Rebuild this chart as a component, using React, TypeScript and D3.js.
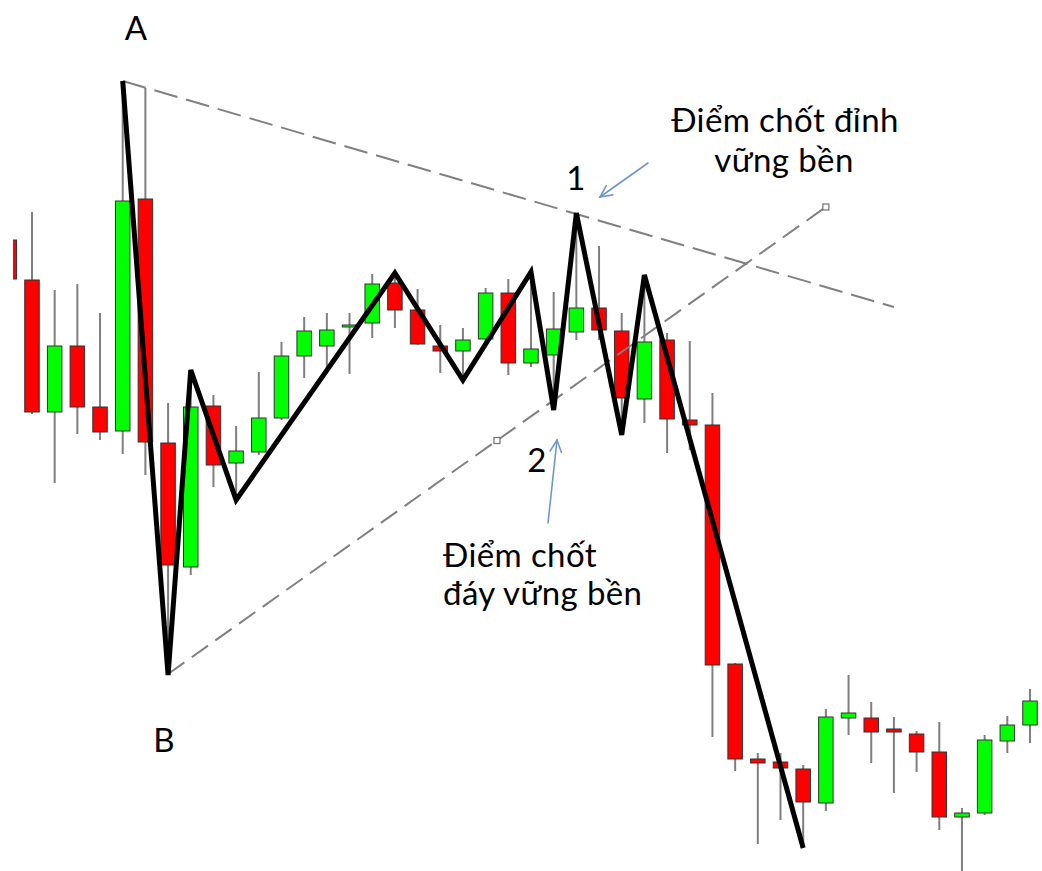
import React from 'react';
import * as d3 from 'd3';

// Candle data (arbitrary price units)
const candleOpen = [64.0, 60.0, 46.8, 53.4, 47.3, 44.9, 68.1, 43.7, 31.3, 47.4, 41.7, 42.8, 46.2, 52.4, 53.4, 55.3, 55.7, 59.7, 57.0, 53.4, 52.9, 54.1, 58.7, 51.7, 52.5, 54.8, 57.2, 54.9, 48.1, 54.0, 46.0, 45.5, 21.6, 12.1, 11.8, 11.1, 7.7, 16.2, 16.2, 15.1, 14.6, 12.8, 6.3, 6.7, 13.9, 15.5];
const candleClose = [60.1, 46.8, 53.4, 47.3, 44.8, 67.9, 43.8, 31.5, 47.3, 41.5, 42.9, 46.2, 52.4, 54.9, 55.0, 55.5, 59.6, 57.0, 53.6, 52.9, 54.0, 58.7, 51.7, 53.1, 55.1, 57.2, 55.0, 48.2, 53.8, 46.1, 45.5, 21.5, 12.1, 11.7, 11.2, 7.8, 16.3, 16.7, 14.8, 14.8, 12.8, 6.3, 6.7, 14.0, 15.5, 17.9];
const candleHigh = [64.2, 66.8, 59.0, 59.6, 56.7, 79.9, 79.2, 47.7, 51.0, 48.5, 45.4, 50.8, 53.8, 56.3, 56.7, 56.7, 60.6, 60.7, 59.1, 55.5, 55.2, 59.2, 60.1, 60.8, 58.8, 66.7, 63.4, 56.7, 60.5, 54.7, 53.9, 48.7, 21.7, 12.7, 12.7, 11.5, 17.1, 20.5, 17.8, 16.3, 14.9, 15.8, 7.2, 14.5, 16.4, 19.1];
const candleLow = [59.9, 46.6, 39.7, 44.6, 44.0, 42.6, 40.5, 20.5, 30.5, 39.3, 38.0, 42.5, 46.0, 50.2, 50.7, 50.6, 54.2, 55.2, 53.5, 50.7, 50.0, 53.8, 50.5, 51.3, 47.0, 54.0, 54.0, 44.5, 45.7, 42.7, 43.0, 14.3, 10.9, 3.6, 6.0, 3.2, 6.9, 14.5, 11.7, 8.7, 10.8, 5.0, 0.5, 6.5, 12.7, 13.7];

// Zigzag pivots: candle index and whether the high or low is used
const pivotIndex = [5, 7, 8, 10, 17, 20, 23, 24, 25, 27, 28, 35];
const pivotKind = ['h', 'l', 'h', 'l', 'h', 'l', 'h', 'l', 'h', 'l', 'h', 'l'];

// Trend lines (candle index, price)
const upperTrendIndex = [5, 39];
const upperTrendPrice = [79.9, 57.3];
const lowerTrendIndex = [7, 36];
const lowerTrendPrice = [20.6, 67.3];
const lowerMarkerIndex = [21.5, 36];

const W = 1042;
const H = 871;
const FONT = 'Lato, "Open Sans", sans-serif';

export default function App() {
  const n = candleOpen.length;
  const x = d3.scaleLinear().domain([0, n - 1]).range([9.3, 1030]);
  const y = d3.scaleLinear().domain([0, 88]).range([880, 0]);
  const bodyW = 14.5;

  const pivots = pivotIndex.map((idx, k) => [x(idx), y(pivotKind[k] === 'h' ? candleHigh[idx] : candleLow[idx])] as [number, number]);
  const zig = d3.line()(pivots) || '';

  const lowerLine = d3.scaleLinear().domain(lowerTrendIndex).range(lowerTrendPrice);

  const arrow = (x1: number, y1: number, x2: number, y2: number) => {
    const a = Math.atan2(y2 - y1, x2 - x1);
    const L = 13;
    const s = 0.45;
    const p1 = [x2 - L * Math.cos(a - s), y2 - L * Math.sin(a - s)];
    const p2 = [x2 - L * Math.cos(a + s), y2 - L * Math.sin(a + s)];
    return (
      <g stroke="#6e97d0" strokeWidth={1.6} fill="none" strokeLinecap="round">
        <line x1={x1} y1={y1} x2={x2} y2={y2} />
        <polyline points={`${p1[0]},${p1[1]} ${x2},${y2} ${p2[0]},${p2[1]}`} />
      </g>
    );
  };

  return (
    <svg width={W} height={H} style={{ position: 'absolute', left: 0, top: 0, background: '#fff' }} fontFamily={FONT}>
      <defs>
        <clipPath id="plot">
          <rect x={13} y={0} width={W - 13} height={H} />
        </clipPath>
      </defs>
      <rect x={0} y={0} width={W} height={H} fill="#fff" />
      <g clipPath="url(#plot)">
        {candleOpen.map((o, i) => {
          const c = candleClose[i];
          const up = c >= o;
          const top = y(Math.max(o, c));
          const bot = y(Math.min(o, c));
          return (
            <g key={i}>
              <line x1={x(i)} x2={x(i)} y1={y(candleHigh[i])} y2={y(candleLow[i])} stroke="#7f7f7f" strokeWidth={2} />
              <rect x={x(i) - bodyW / 2} y={top} width={bodyW} height={Math.max(bot - top, 2)} fill={up ? '#00ff00' : '#ff0000'} stroke="#333" strokeWidth={1} />
            </g>
          );
        })}
      </g>
      {/* trend lines */}
      <line x1={x(upperTrendIndex[0])} y1={y(upperTrendPrice[0])} x2={x(upperTrendIndex[1])} y2={y(upperTrendPrice[1])} stroke="#808080" strokeWidth={2} strokeDasharray="24 9" />
      <line x1={x(lowerTrendIndex[0])} y1={y(lowerTrendPrice[0])} x2={x(lowerTrendIndex[1])} y2={y(lowerTrendPrice[1])} stroke="#808080" strokeWidth={2} strokeDasharray="20 9" />
      {lowerMarkerIndex.map((mi, k) => (
        <rect key={k} x={x(mi) - 3} y={y(lowerLine(mi)) - 3} width={6} height={6} fill="#fff" stroke="#707070" strokeWidth={1.2} />
      ))}
      {/* zigzag */}
      <path d={zig} fill="none" stroke="#000" strokeWidth={5} strokeLinejoin="miter" strokeMiterlimit={3} />
      {/* labels */}
      <g fill="#000" fontSize={33} letterSpacing={0.4}>
        <text x={136} y={40} textAnchor="middle">A</text>
        <text x={164} y={752} textAnchor="middle">B</text>
        <text x={576} y={190} textAnchor="middle">1</text>
        <text x={537} y={472} textAnchor="middle">2</text>
        <text x={785} y={132} textAnchor="middle">Điểm chốt đỉnh</text>
        <text x={784} y={172} textAnchor="middle">vững bền</text>
        <text x={443} y={567}>Điểm chốt</text>
        <text x={443} y={605}>đáy vững bền</text>
      </g>
      {arrow(648, 163, 600, 197)}
      {arrow(548, 523, 557, 440)}
    </svg>
  );
}
